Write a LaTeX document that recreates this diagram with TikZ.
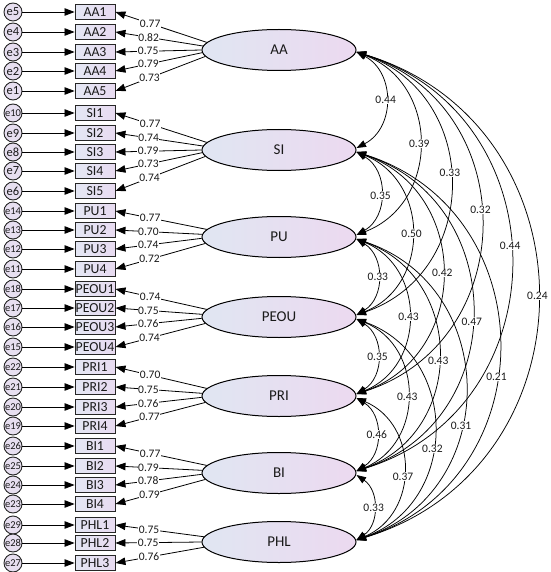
\documentclass[tikz,border=0pt]{standalone}
\usepackage{fontspec}
\setmainfont{Carlito}
\usetikzlibrary{shapes.geometric,arrows.meta}
\definecolor{latL}{HTML}{E0E6F2}
\definecolor{latR}{HTML}{ECD9F0}
\definecolor{indL}{HTML}{E4E7F4}
\definecolor{indR}{HTML}{E8DBF1}
\definecolor{errF}{HTML}{E7DFF0}
\definecolor{txt}{HTML}{1A1A1A}
\begin{document}
\begin{tikzpicture}[x=1pt,y=-1pt,
  lat/.style={ellipse, draw=black, line width=1pt, minimum width=154pt, minimum height=41pt, inner sep=0pt, left color=latL, right color=latR, text=txt, font=\fontsize{15}{15}\selectfont},
  ind/.style={rectangle, draw=black!85, line width=0.9pt, minimum width=40pt, minimum height=14.5pt, inner sep=0pt, left color=indL, right color=indR, text=txt, font=\fontsize{13.8}{14}\selectfont},
  err/.style={circle, draw=black!85, line width=0.9pt, minimum size=18pt, inner sep=0pt, fill=errF, text=txt},
  arr/.style={line width=0.8pt, -{Triangle[length=10pt,width=7.5pt]}},
  cov/.style={line width=0.75pt, {Triangle[length=9.5pt,width=7pt]}-{Triangle[length=9.5pt,width=7pt]}},
  lbl/.style={fill=white, inner sep=0.6pt, text=txt, font=\fontsize{11.5}{11.5}\selectfont}
]
\useasboundingbox (0,0) rectangle (550,572);
% latent variables
\foreach \n/\y in {AA/50,SI/150,PU/237,PEOU/317,PRI/396,BI/473,PHL/542}
  \node[lat] (\n) at (279,\y) {\n};
% indicators, errors, loadings
\foreach \n/\y/\e/\l/\a/\v/\fs in {
  AA1/12/e5/AA/174.6/0.77/12.5, AA2/32/e4/AA/177.3/0.82/12.5, AA3/52/e3/AA/180/0.75/12.5,
  AA4/71/e2/AA/182.7/0.79/12.5, AA5/91/e1/AA/185.4/0.73/12.5,
  SI1/113/e10/SI/174.6/0.77/10.5, SI2/133/e9/SI/177.3/0.74/12.5, SI3/152/e8/SI/180/0.79/12.5,
  SI4/171/e7/SI/182.7/0.73/12.5, SI5/191/e6/SI/185.4/0.74/12.5,
  PU1/211/e14/PU/174.6/0.77/10.5, PU2/230/e13/PU/178.2/0.70/10.5, PU3/249/e12/PU/181.8/0.74/10.5,
  PU4/269/e11/PU/185.4/0.72/10.5,
  PEOU1/289/e18/PEOU/174.6/0.74/10.5, PEOU2/308/e17/PEOU/178.2/0.75/10.5,
  PEOU3/327/e16/PEOU/181.8/0.76/10.5, PEOU4/347/e15/PEOU/185.4/0.74/10.5,
  PRI1/367/e22/PRI/174.6/0.70/10.5, PRI2/387/e21/PRI/178.2/0.75/10.5,
  PRI3/407/e20/PRI/181.8/0.76/10.5, PRI4/426/e19/PRI/185.4/0.77/10.5,
  BI1/446/e26/BI/174.6/0.77/10.5, BI2/466/e25/BI/178.2/0.79/10.5,
  BI3/485/e24/BI/181.8/0.78/10.5, BI4/504/e23/BI/185.4/0.79/10.5,
  PHL1/525/e29/PHL/176/0.75/10.5, PHL2/543/e28/PHL/180/0.75/10.5, PHL3/563/e27/PHL/184/0.76/10.5}
{
  \node[ind] (\n) at (95,\y) {\n};
  \node[err, font=\fontsize{\fs}{\fs}\selectfont] (\e) at (13,\y) {\e};
  \draw[arr] (\e) -- (\n);
  \draw[arr] (\l.\a) -- node[lbl,pos=0.62] {\v} (\n.east);
}
% covariances
\foreach \a/\b/\kx/\ky/\p/\v in {
  AA/SI/38.9/20.2/0.5/0.44, SI/PU/32.1/18.3/0.52/0.35, PU/PEOU/28.5/17.3/0.5/0.33,
  PEOU/PRI/28.0/17.2/0.5/0.35, PRI/BI/27.0/16.8/0.5/0.46, BI/PHL/22.9/15.6/0.5/0.33,
  AA/PU/83.7/32.3/0.5/0.39, SI/PEOU/73.5/29.5/0.5/0.50, PU/PRI/69.3/28.4/0.5/0.43,
  PEOU/BI/67.7/28.0/0.51/0.43, PRI/PHL/62.6/26.6/0.545/0.37,
  AA/PEOU/125.1/43.0/0.467/0.33, SI/PRI/114.3/40.2/0.5/0.42, PU/BI/109.1/38.9/0.52/0.43,
  PEOU/PHL/103.3/37.4/0.571/0.32,
  AA/PRI/165.9/53.7/0.469/0.32, SI/BI/154/50.6/0.525/0.47, PU/PHL/144.7/48.2/0.596/0.31,
  AA/BI/205.6/64.0/0.47/0.44, SI/PHL/189.6/59.9/0.563/0.21,
  AA/PHL/241.2/73.4/0.5/0.24}
{
  \draw[cov] ([yshift=-2pt]\a.east) .. controls +(\kx,\ky) and +(\kx,-\ky) .. node[lbl,pos=\p] {\v} ([yshift=2pt]\b.east);
}
\end{tikzpicture}
\end{document}
